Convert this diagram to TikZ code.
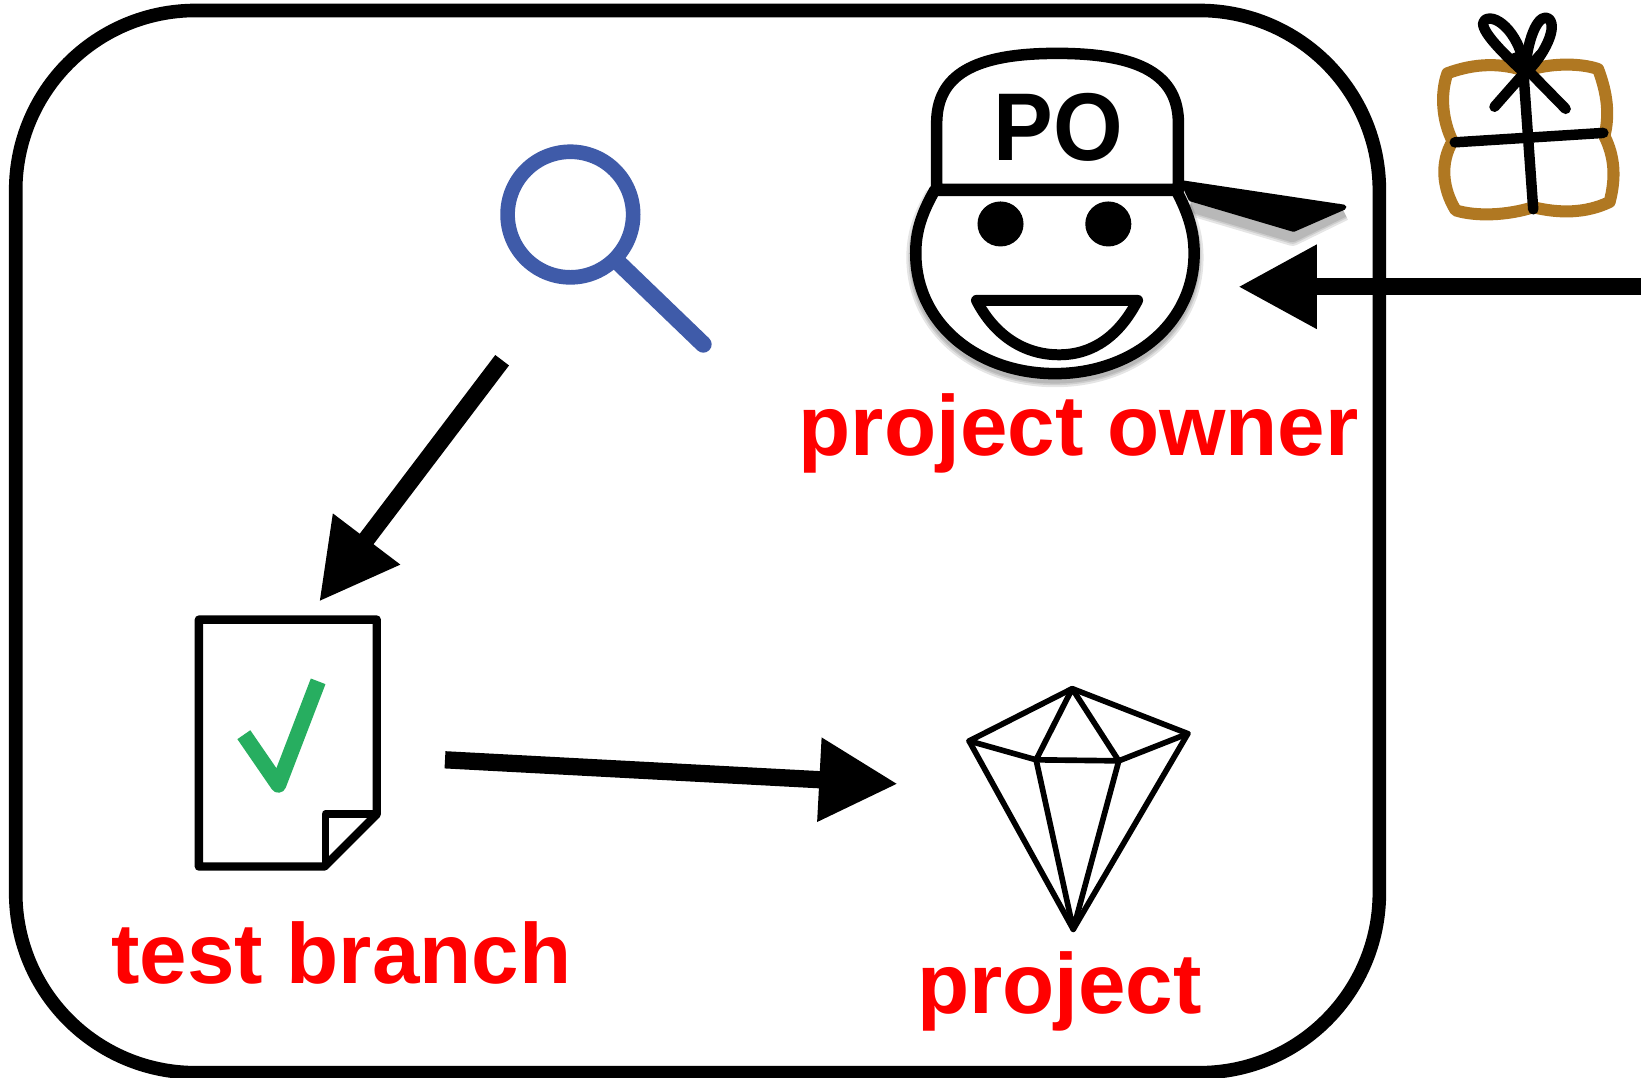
\documentclass[tikz,border=0pt]{standalone}
\usepackage{fontspec}
\setmainfont{Liberation Sans}
\usetikzlibrary{arrows.meta}
\definecolor{lensblue}{HTML}{3F5BA9}
\definecolor{tickgreen}{HTML}{27AE60}
\definecolor{giftbrown}{HTML}{B07822}
\tikzset{
  x=1pt,y=-1pt,
  frame/.style={draw=black,line width=13pt,rounded corners=172pt},
  lbl/.style={text=red,font=\fontsize{81.6}{82}\selectfont\bfseries,inner sep=0pt,anchor=base west},
  flow/.style={draw=black,line width=16.5pt,-{Triangle[length=75pt,width=76pt]}},
  ink/.style={draw=black,line width=10.5pt,line join=round,line cap=round},
  faint/.style={draw=black,opacity=.10,line join=round},
  gem/.style={draw=black,line width=5.4pt,line join=round,line cap=round},
  ribbon/.style={draw=black,line width=10pt,line cap=round,line join=round},
  wrap/.style={draw=giftbrown,line width=11.5pt,line cap=round,line join=round},
}
\begin{document}
\begin{tikzpicture}
\useasboundingbox (0,0) rectangle (1568,1030);
\fill[white] (0,0) rectangle (1568,1030);
\draw[frame] (15,10) rectangle (1318,1025);

% project owner: shadow
\foreach \w in {18,14,11}{
  \draw[faint,line width=\w pt] (893,186) .. controls (880,209) and (875,226) .. (875,246) .. controls (875,314) and (935,361) .. (1008,361) .. controls (1081,361) and (1141,314) .. (1141,246) .. controls (1141,226) and (1136,209) .. (1124,186);
  \draw[faint,line width=\w pt] (1137,197) -- (1235,226) -- (1284,202);
}
% project owner: face and cap
\draw[black,fill=white,line width=11pt,line join=round] (893,182) .. controls (880,205) and (875,222) .. (875,242) .. controls (875,310) and (935,357) .. (1008,357) .. controls (1081,357) and (1141,310) .. (1141,242) .. controls (1141,222) and (1136,205) .. (1124,182) -- cycle;
\fill[black,draw=black,line width=5pt,line join=round] (1131,175) -- (1284,198) -- (1236,219) -- (1138,190) -- cycle;
\filldraw[fill=white,draw=black,line width=11pt,line join=round] (895,181) -- (895,118) .. controls (895,72) and (930,51) .. (1010,51) .. controls (1090,51) and (1126,72) .. (1126,118) -- (1126,181) -- cycle;
\fill[black] (956,214) ellipse [x radius=22,y radius=21.5];
\fill[black] (1059,214) ellipse [x radius=22,y radius=21.5];
\draw[ink,fill=white] (933,287) -- (1087,287) .. controls (1070,320) and (1045,339) .. (1012,339) .. controls (978,339) and (950,320) .. cycle;
\node[inner sep=0pt,anchor=base,xscale=.93,font=\fontsize{92}{92}\selectfont\bfseries] (po) at (1011,153) {PO};
\node[inner sep=0pt,minimum width=273pt,minimum height=312pt] (owner) at (1008.5,204) {};

% magnifier
\draw[lensblue,line width=14pt] (545,205) circle [radius=60];
\draw[lensblue,line width=16pt,line cap=round] (592,252) -- (672,329);
\node[inner sep=0pt,minimum width=202pt,minimum height=202pt] (search) at (579,239) {};

% test branch document
\draw[black,line width=8pt,line join=round] (190,592) -- (360,592) -- (360,778) -- (310,828) -- (190,828) -- cycle;
\draw[black,line width=7.5pt,line join=round] (360,778) -- (311,778) -- (311,828);
\draw[tickgreen,line width=15pt,line join=round] (233,702) -- (266,750) -- (304,651);
\node[inner sep=0pt,minimum width=176pt,minimum height=240pt] (doc) at (275,710) {};

% project gem
\draw[gem] (1024.5,658) -- (926,708) -- (1025.5,888) -- (1135,701) -- cycle;
\draw[gem] (926,708) -- (990,726) -- (1069,727) -- (1135,701);
\draw[gem] (1024.5,658) -- (990,726) -- (1025.5,888) -- (1069,727) -- cycle;
\node[inner sep=0pt,minimum width=209pt,minimum height=232pt] (gemicon) at (1030.5,774) {};

% gift
\draw[wrap] (1383,70) .. controls (1410,60) and (1435,60) .. (1458,68) .. controls (1480,60) and (1510,60) .. (1527,66)
  .. controls (1536,90) and (1538,110) .. (1533,130) .. controls (1543,150) and (1544,170) .. (1538,193)
  .. controls (1515,204) and (1490,204) .. (1465,198) .. controls (1440,206) and (1410,207) .. (1391,201)
  .. controls (1378,180) and (1376,155) .. (1388,135) .. controls (1378,115) and (1376,90) .. (1383,70) -- cycle;
\draw[ribbon] (1455,60) -- (1465,200);
\draw[ribbon] (1390,136) -- (1532,127);
\draw[ribbon] (1428,102) -- (1472,52);
\draw[ribbon] (1496,104) -- (1448,55);
\draw[ribbon] (1457,70) .. controls (1435,50) and (1410,25) .. (1419,19) .. controls (1430,12) and (1455,35) .. (1457,70);
\draw[ribbon] (1457,70) .. controls (1460,30) and (1472,12) .. (1480,18) .. controls (1490,28) and (1470,60) .. (1457,70);

% connectors
\coordinate (incoming) at (1568,274);
\draw[flow] (incoming) -- ([shift={(38,70)}]owner.east);
\draw[flow] ([shift={(2,4)}]search.south west) -- ([shift={(30,-15)}]doc.north);
\draw[flow] ([shift={(62,16)}]doc.east) -- ([shift={(-68,-25)}]gemicon.west);

% labels
\node[lbl] (ownerlabel) at (763,435) {project owner};
\node[lbl] (branchlabel) at (106,940) {test branch};
\node[lbl] (projectlabel) at (876,968) {project};
\end{tikzpicture}
\end{document}
